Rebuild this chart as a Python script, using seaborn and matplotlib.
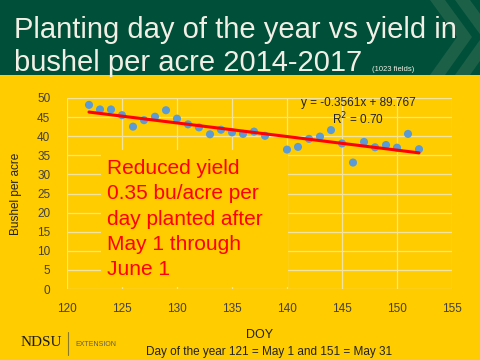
import matplotlib
matplotlib.use("Agg")
import matplotlib.pyplot as plt
import matplotlib.patches as mpatches
import seaborn as sns
import pandas as pd

# planting day of year and average yield (bu/acre)
doy = [122, 123, 124, 125, 126, 127, 128, 129, 130, 131, 132, 133, 134, 135, 136,
       137, 138, 140, 141, 142, 143, 144, 145, 146, 147, 148, 149, 150, 151, 152]
yield_bu = [48.2, 47.0, 47.0, 45.5, 42.5, 44.2, 45.1, 46.8, 44.6, 43.1, 42.3, 40.5, 41.7, 41.0, 40.6,
            41.2, 40.1, 36.5, 37.2, 39.3, 39.9, 41.6, 38.1, 33.1, 38.5, 37.1, 37.7, 37.0, 40.6, 36.6]
slope, intercept = -0.3561, 89.767
x_ticks = [120, 125, 130, 135, 140, 145, 150, 155]
y_ticks = [0, 5, 10, 15, 20, 25, 30, 35, 40, 45, 50]

YELLOW = "#FFCC00"
GREEN = "#004F38"

sns.set_style("whitegrid", {"axes.facecolor": YELLOW, "grid.color": "#F3E3A0"})
plt.rcParams["font.family"] = ["Liberation Sans", "DejaVu Sans"]

fig = plt.figure(figsize=(4.8, 3.6), dpi=100)
fig.patch.set_facecolor(YELLOW)

# header banner
fig.add_artist(mpatches.Rectangle((0, 1 - 75 / 360), 1, 75 / 360, transform=fig.transFigure,
                                  facecolor=GREEN, edgecolor="none", zorder=0))
for dx in (0, 25):
    pts = [(430 + dx, 0), (445 + dx, 0), (472 + dx, 37), (445 + dx, 75), (430 + dx, 75), (457 + dx, 37)]
    pts = [(px / 480, 1 - py / 360) for px, py in pts]
    fig.add_artist(mpatches.Polygon(pts, closed=True, transform=fig.transFigure,
                                    facecolor="#1C6048", edgecolor="none", zorder=0))

fig.text(14 / 480, 1 - 38 / 360, "Planting day of the year vs yield in", color="#F2F0E6",
         fontsize=21, va="baseline", ha="left")
fig.text(14 / 480, 1 - 71 / 360, "bushel per acre 2014-2017", color="#F2F0E6",
         fontsize=21, va="baseline", ha="left")
fig.text(372 / 480, 1 - 71 / 360, "(1023 fields)", color="#F2F0E6",
         fontsize=5.5, va="baseline", ha="left")

ax = fig.add_axes([67 / 480, 1 - 289 / 360, (452 - 67) / 480, (289 - 98) / 360])
df = pd.DataFrame({"DOY": doy, "Yield": yield_bu})
sns.scatterplot(data=df, x="DOY", y="Yield", ax=ax, color="#5B9BD5", s=34,
                edgecolor="none", zorder=4)
trend = pd.DataFrame({"DOY": [min(doy), max(doy)]})
trend["Yield"] = slope * trend["DOY"] + intercept
sns.lineplot(data=trend, x="DOY", y="Yield", ax=ax, color="#FF0000", lw=2.2, zorder=5)

ax.set_xlim(120, 155)
ax.set_ylim(0, 50)
ax.set_xticks(x_ticks)
ax.set_yticks(y_ticks)
ax.tick_params(axis="x", labelsize=8.5, colors="#404040", length=0, pad=10)
ax.tick_params(axis="y", labelsize=8.5, colors="#404040", length=0, pad=12)
for s in ax.spines.values():
    s.set_visible(False)
ax.grid(True, color="#F3E3A0", lw=0.9)
ax.set_xlabel("DOY", fontsize=9, color="#222222", labelpad=10)
ax.set_ylabel("Bushel per acre", fontsize=8.5, color="#222222", labelpad=11)

# text box covering grid
ax.add_patch(mpatches.Rectangle((123.1, 0.4), 17.0, 36.0, facecolor=YELLOW,
                                edgecolor="none", zorder=3))
ax.text(123.6, 34.0, "Reduced yield\n0.35 bu/acre per\nday planted after\nMay 1 through\nJune 1",
        color="#FF0000", fontsize=15, va="top", ha="left", linespacing=1.42, zorder=6)
ax.text(146.5, 48.8, "y = -0.3561x + 89.767", fontsize=8.5, color="#222222",
        ha="center", va="center", zorder=6)
ax.text(146.5, 44.6, "R$^2$ = 0.70", fontsize=8.5, color="#222222",
        ha="center", va="center", zorder=6)

fig.text(269 / 480, 1 - 352 / 360, "Day of the year 121 = May 1 and 151 = May 31",
         fontsize=8.5, color="#222222", ha="center", va="center")

# footer logo
fig.text(21 / 480, 1 - 343 / 360, "NDSU", family="Liberation Serif", fontsize=11,
         color="#1A1A1A", ha="left", va="center")
fig.add_artist(plt.Line2D([68 / 480, 68 / 480], [1 - 332 / 360, 1 - 355 / 360],
                          transform=fig.transFigure, color="#8A7A30", lw=0.8))
fig.text(75 / 480, 1 - 344 / 360, "EXTENSION", fontsize=5, color="#5A5A5A",
         ha="left", va="center")

fig.savefig("out.png", dpi=100, facecolor=YELLOW)
